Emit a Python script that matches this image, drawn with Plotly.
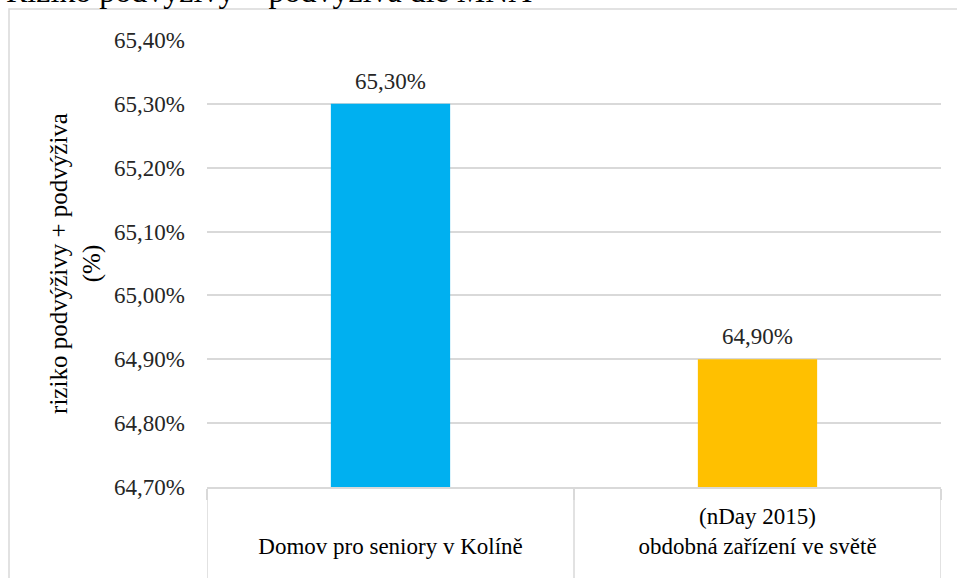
import plotly.graph_objects as go

# Chart data
groups = ["Domov pro seniory v Kolíně", "obdobná zařízení ve světě"]
subgroups = [" ", "(nDay 2015)"]
values = [65.30, 64.90]
colors = ["#00B0F0", "#FFC000"]
y_ticks = [64.70, 64.80, 64.90, 65.00, 65.10, 65.20, 65.30, 65.40]
y_tick_text = [f"{t:.2f}".replace(".", ",") + "%" for t in y_ticks]
x_tick_text = [f"{s}<br>{g}" for g, s in zip(groups, subgroups)]

title_text = "Riziko podvýživy + podvýživa dle MNA"
y_title = "riziko podvýživy + podvýživa<br>(%)"

FONT = "Liberation Serif"
GRID = "#D9D9D9"

W, H = 957, 578
L, R, T, B = 207, 16, 40, 91
pw, ph = W - L - R, H - T - B


def px_x(p):
    return (p - L) / pw


def px_y(p):
    return (H - B - p) / ph


fig = go.Figure()
fig.add_trace(go.Bar(
    x=groups,
    y=values,
    width=0.325,
    marker=dict(color=colors, line=dict(width=0)),
    showlegend=False,
))

# value labels above the bars
for g, v in zip(groups, values):
    fig.add_annotation(x=g, y=v, yanchor="bottom", yshift=8,
                       text=f"{v:.2f}".replace(".", ",") + "%",
                       showarrow=False,
                       font=dict(family=FONT, size=23, color="#262626"))

# category separators running down through the label area
for i in range(len(groups) + 1):
    fig.add_shape(type="line", xref="x", yref="paper",
                  x0=i - 0.5, x1=i - 0.5, y0=0, y1=px_y(600),
                  line=dict(color=GRID, width=1.5))

# outer chart-area frame
fig.add_shape(type="rect", xref="paper", yref="paper",
              x0=px_x(9), x1=px_x(990), y0=px_y(9), y1=px_y(640),
              line=dict(color=GRID, width=1.5), layer="below")

# chart title, partly above the top edge
fig.add_annotation(text=title_text, xref="paper", yref="paper",
                   x=px_x(4), y=px_y(-9), xanchor="left", yanchor="middle",
                   showarrow=False,
                   font=dict(family=FONT, size=32, color="#000000"))

fig.update_layout(
    width=W, height=H,
    margin=dict(l=L, r=R, t=T, b=B, pad=0),
    paper_bgcolor="white", plot_bgcolor="white",
    font=dict(family=FONT, color="#262626"),
    yaxis=dict(
        range=[64.70, 65.40],
        tickvals=y_ticks, ticktext=y_tick_text,
        tickfont=dict(family=FONT, size=23, color="#262626"),
        ticklabelstandoff=21,
        showgrid=True, gridcolor=GRID, gridwidth=1.5,
        zeroline=False, showline=False,
        title=dict(text=y_title, standoff=6,
                   font=dict(family=FONT, size=25, color="#000000")),
    ),
    xaxis=dict(
        type="category",
        range=[-0.5, len(groups) - 0.5],
        tickvals=groups, ticktext=x_tick_text,
        tickson="boundaries",
        tickfont=dict(family=FONT, size=23, color="#000000"),
        ticklabelstandoff=8,
        showline=True, linecolor=GRID, linewidth=1.5,
        ticks="outside", ticklen=11, tickcolor=GRID, tickwidth=1.5,
        showgrid=False,
    ),
)

fig.write_html("out.html")
